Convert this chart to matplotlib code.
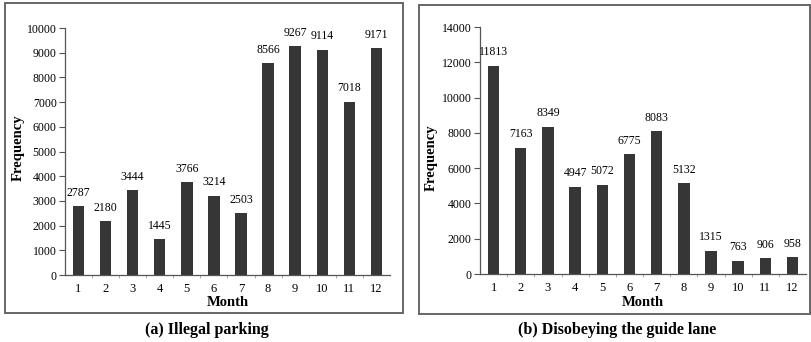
import numpy as np
import matplotlib.pyplot as plt
from matplotlib.patches import Rectangle

# -----------------------------
# Data
# -----------------------------
months = np.arange(1, 13)
month_labels = [str(m) for m in months]
illegal_parking = [2787, 2180, 3444, 1445, 3766, 3214, 2503, 8566, 9267, 9114, 7018, 9171]
guide_lane = [11813, 7163, 8349, 4947, 5072, 6775, 8083, 5132, 1315, 763, 906, 958]

plt.rcParams["font.family"] = ["Liberation Serif", "DejaVu Serif"]

BAR_COLOR = "#363636"
AXIS_COLOR = "#555555"


def draw_panel(ax, values, ymax, ystep, caption, caption_x, ylabel_x, ylabel_y):
    ax.bar(months, values, width=0.42, color=BAR_COLOR, zorder=2)
    for m, v in zip(months, values):
        ax.text(m, v + ymax * 0.03, str(v), ha="center", va="bottom", fontsize=8.5)

    ax.set_xlim(0.5, 12.5)
    ax.set_ylim(0, ymax)
    ax.set_yticks(np.arange(0, ymax + 1, ystep))
    ax.set_xticks(months)
    ax.set_xticklabels(month_labels)
    ax.set_xticks(np.arange(1.5, 12.5, 1), minor=True)
    ax.tick_params(axis="x", which="major", length=0, labelsize=9, pad=6)
    ax.tick_params(axis="x", which="minor", length=2, color="#999999")
    ax.tick_params(axis="y", length=4, labelsize=8.5, pad=2, color=AXIS_COLOR)

    for side in ("top", "right"):
        ax.spines[side].set_visible(False)
    for side in ("left", "bottom"):
        ax.spines[side].set_color(AXIS_COLOR)
        ax.spines[side].set_linewidth(0.9)

    pos = ax.get_position()
    fig.text((pos.x0 + pos.x1) / 2, 1 - 302 / 342, "Month", ha="center", va="center",
             fontsize=10.5, fontweight="bold")
    fig.text(ylabel_x, ylabel_y, "Frequency", ha="center", va="center", rotation=90,
             fontsize=10.5, fontweight="bold")
    fig.text(caption_x, 1 - 330 / 342, caption, ha="center", va="center",
             fontsize=11.5, fontweight="bold")


fig = plt.figure(figsize=(8.11, 3.42), dpi=100)

ax1 = fig.add_axes([0.0801, 0.1959, 0.4007, 0.7222])
ax2 = fig.add_axes([0.5919, 0.1988, 0.4020, 0.7222])

draw_panel(ax1, illegal_parking, 10000, 1000, "(a) Illegal parking",
           207 / 811, 18 / 811, 1 - 148 / 342)
draw_panel(ax2, guide_lane, 14000, 2000, "(b) Disobeying the guide lane",
           617 / 811, 431 / 811, 1 - 158 / 342)

# panel frames
fig.patches.append(Rectangle((4.5 / 811, 1 - 313 / 342), (403 - 4.5) / 811, (313 - 3) / 342,
                             transform=fig.transFigure, fill=False,
                             edgecolor="#666666", linewidth=1.4))
fig.patches.append(Rectangle((419 / 811, 1 - 314 / 342), (810 - 419) / 811, (314 - 5) / 342,
                             transform=fig.transFigure, fill=False,
                             edgecolor="#666666", linewidth=1.4))

fig.savefig("out.png", dpi=100)
